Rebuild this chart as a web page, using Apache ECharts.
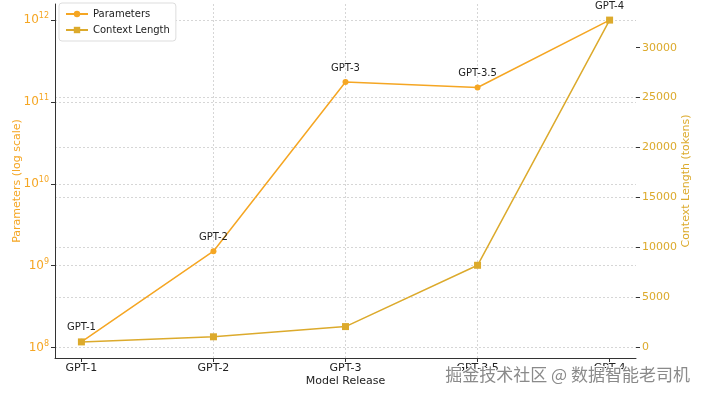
<!DOCTYPE html>
<html>
<head>
<meta charset="utf-8">
<script src="https://cdn.jsdelivr.net/npm/echarts@6/dist/echarts.min.js"></script>
<style>
  html, body { margin: 0; padding: 0; background: #fff; }
  #chart { width: 703px; height: 398px; }
</style>
</head>
<body>
<div id="chart"></div>
<script>
const categories = ['GPT-1', 'GPT-2', 'GPT-3', 'GPT-3.5', 'GPT-4'];
const pointLabels = ['GPT-1', 'GPT-2', 'GPT-3', 'GPT-3.5', 'GPT-4'];
const parameters = [1.17e8, 1.5e9, 1.75e11, 1.5e11, 1e12];
const contextLength = [512, 1024, 2048, 8192, 32768];
const contextTicks = [0, 5000, 10000, 15000, 20000, 25000, 30000];
const categoryTicks = [0, 1, 2, 3, 4];

const paramColor = '#f5a623';
const ctxColor = '#dcaa2c';
const gridColor = '#cccccc';

const chart = echarts.init(document.getElementById('chart'));

const option = {
  backgroundColor: '#fff',
  textStyle: { fontFamily: 'DejaVu Sans' },
  grid: { left: 55, right: 67, top: 4, bottom: 40, outerBoundsMode: 'none', containLabel: false },
  legend: {
    orient: 'vertical',
    left: 59,
    top: 3,
    backgroundColor: '#fff',
    borderColor: '#dddddd',
    borderWidth: 1,
    borderRadius: 3,
    padding: [6, 6, 6, 6],
    itemGap: 6,
    itemWidth: 22,
    itemHeight: 8,
    textStyle: { fontSize: 10, color: '#222' },
    data: ['Parameters', 'Context Length']
  },
  xAxis: {
    type: 'value',
    min: -0.2,
    max: 4.2,
    name: 'Model Release',
    nameLocation: 'middle',
    nameGap: 18,
    nameMoveOverlap: false,
    nameTextStyle: { fontSize: 11, color: '#222' },
    axisLine: { onZero: false, lineStyle: { color: '#333', width: 1 } },
    axisTick: { customValues: categoryTicks, length: 4, lineStyle: { color: '#333' } },
    axisLabel: {
      customValues: categoryTicks,
      fontSize: 11,
      color: '#222',
      margin: 5,
      formatter: v => categories[Math.round(v)] || ''
    },
    splitLine: {
      show: true,
      showMinLine: false,
      showMaxLine: false,
      lineStyle: { color: gridColor, type: [2, 2], width: 0.8 }
    }
  },
  yAxis: [
    {
      type: 'log',
      logBase: 10,
      min: Math.pow(10, 7.871),
      max: Math.pow(10, 12.197),
      position: 'left',
      name: 'Parameters (log scale)',
      nameLocation: 'middle',
      nameGap: 32,
      nameMoveOverlap: false,
      nameTextStyle: { fontSize: 11, color: paramColor },
      axisLine: { show: true, onZero: false, lineStyle: { color: '#333', width: 1 } },
      axisTick: { show: true, length: 4, lineStyle: { color: '#333' } },
      axisLabel: {
        color: paramColor,
        fontSize: 12,
        margin: 6,
        showMinLabel: false,
        showMaxLabel: false,
        formatter: v => '10{sup|' + Math.round(Math.log10(v)) + '}',
        rich: { sup: { fontSize: 8, color: paramColor, verticalAlign: 'top', padding: [0, 0, 8, 0] } }
      },
      splitLine: {
        show: true,
        showMinLine: false,
        showMaxLine: false,
        lineStyle: { color: gridColor, type: [2, 2], width: 0.8 }
      }
    },
    {
      type: 'value',
      min: -1101,
      max: 34381,
      splitNumber: 7,
      position: 'right',
      name: 'Context Length (tokens)',
      nameLocation: 'middle',
      nameGap: 45,
      nameMoveOverlap: false,
      nameTextStyle: { fontSize: 11, color: ctxColor },
      axisLine: { show: false, onZero: false },
      axisTick: { show: true, customValues: contextTicks, length: 4, lineStyle: { color: '#333' } },
      axisLabel: {
        customValues: contextTicks,
        color: ctxColor,
        fontSize: 11,
        margin: 6,
        formatter: v => String(v)
      },
      splitLine: {
        show: true,
        showMinLine: false,
        showMaxLine: false,
        lineStyle: { color: gridColor, type: [2, 2], width: 0.8 }
      }
    }
  ],
  series: [
    {
      name: 'Parameters',
      type: 'line',
      yAxisIndex: 0,
      data: parameters.map((v, i) => [i, v]),
      color: paramColor,
      symbol: 'circle',
      symbolSize: 6,
      lineStyle: { width: 1.5 },
      label: {
        show: true,
        position: 'top',
        distance: 6,
        fontSize: 10,
        color: '#222',
        formatter: p => pointLabels[p.dataIndex]
      }
    },
    {
      name: 'Context Length',
      type: 'line',
      yAxisIndex: 1,
      data: contextLength.map((v, i) => [i, v]),
      color: ctxColor,
      symbol: 'rect',
      symbolSize: 7,
      lineStyle: { width: 1.5 }
    }
  ],
  graphic: [
    {
      type: 'text',
      right: 12,
      bottom: 14,
      style: {
        text: '掘金技术社区 @ 数据智能老司机',
        font: '17px "Noto Sans CJK SC"',
        fill: '#8a8a8a',
        stroke: '#ffffff',
        lineWidth: 2
      },
      z: 100
    }
  ]
};

chart.setOption(option);
</script>
</body>
</html>
